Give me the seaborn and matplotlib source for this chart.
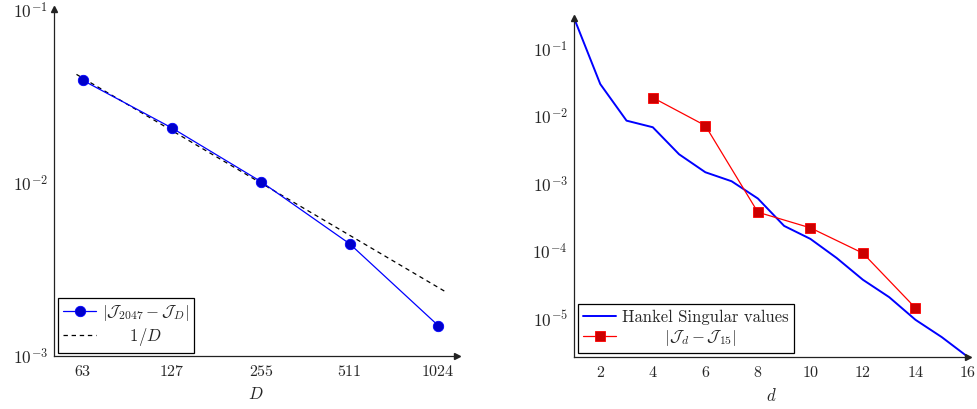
import numpy as np
import pandas as pd
import matplotlib
matplotlib.use("Agg")
import matplotlib.pyplot as plt
from matplotlib.ticker import FixedLocator, NullLocator, LogLocator, NullFormatter
import seaborn as sns

# ---------------- data ----------------
D_values = [63, 127, 255, 511, 1024]
J_err_D = [0.0393, 0.0208, 0.0102, 0.00446, 0.0015]
ref_D = [60, 1100]
ref_invD = [0.0425, 0.00232]

d_hankel = list(range(1, 17))
hankel_sv = [0.29, 0.0301, 0.0086, 0.00686, 0.00272, 0.00147, 0.00108, 0.000598,
             0.000234, 0.00015, 7.8e-5, 3.7e-5, 2.04e-5, 9.4e-6, 5.2e-6, 2.63e-6]
d_err = [4, 6, 8, 10, 12, 14]
J_err_d = [0.0189, 0.00726, 0.000374, 0.000219, 9.2e-5, 1.41e-5]

left_xticks = [63, 127, 255, 511, 1024]
left_yticks = [1e-3, 1e-2, 1e-1]
right_xticks = [2, 4, 6, 8, 10, 12, 14, 16]
right_yticks = [1e-5, 1e-4, 1e-3, 1e-2, 1e-1]

# ---------------- style ----------------
sns.set_theme(style="white")
plt.rcParams["font.family"] = ["cmr10", "DejaVu Serif"]
plt.rcParams["mathtext.fontset"] = "cm"
plt.rcParams["axes.formatter.use_mathtext"] = True
FS = 11.6
YFS = 12.5

fig = plt.figure(figsize=(9.77, 4.09), dpi=100)
W, H = 977, 409

def px_axes(l, r, t, b):
    return fig.add_axes([l / W, 1 - b / H, (r - l) / W, (b - t) / H])

axL = px_axes(54, 457, 9, 356)
axR = px_axes(574, 968, 18, 357)

def style_axes(ax):
    for s in ["top", "right"]:
        ax.spines[s].set_visible(False)
    for s in ["left", "bottom"]:
        ax.spines[s].set_color("#222222")
        ax.spines[s].set_linewidth(0.9)
    ax.tick_params(which="major", direction="inout", length=5, width=0.6,
                   color="#333333", labelsize=FS, pad=3)
    ax.tick_params(which="minor", direction="inout", length=3, width=0.5,
                   color="#333333")
    ax.tick_params(axis="y", which="major", labelsize=YFS, pad=2)
    ax.tick_params(axis="x", which="major", pad=4)
    ax.grid(False)
    # axis arrows
    ax.plot(1, 0, marker=">", color="#222222", ms=4, transform=ax.transAxes, clip_on=False)
    ax.plot(0, 1, marker="^", color="#222222", ms=4, transform=ax.transAxes, clip_on=False)

# ---------------- left plot ----------------
dfL = pd.DataFrame({"D": D_values, "err": J_err_D})
dfRef = pd.DataFrame({"D": ref_D, "y": ref_invD})
sns.lineplot(data=dfRef, x="D", y="y", ax=axL, color="black", lw=0.9,
             linestyle=(0, (3.5, 3)), label=r"$\hspace{1.9}1/D$")
sns.lineplot(data=dfL, x="D", y="err", ax=axL, color="blue", lw=0.9,
             marker="o", ms=7.5, markerfacecolor=(0, 0, 0.8), markeredgecolor="blue",
             markeredgewidth=0.6, label=r"$|\mathcal{J}_{2047}-\mathcal{J}_D|$")
axL.set_xscale("log", base=2)
axL.set_yscale("log")
axL.set_xlim(50.3, 1187)
axL.set_ylim(1e-3, 1.015e-1)
axL.xaxis.set_major_locator(FixedLocator(left_xticks))
axL.set_xticklabels([str(v) for v in left_xticks])
axL.xaxis.set_minor_locator(NullLocator())
axL.yaxis.set_major_locator(FixedLocator(left_yticks))
axL.set_yticklabels([r"$10^{-3}$", r"$10^{-2}$", r"$10^{-1}$"])
axL.yaxis.set_minor_locator(LogLocator(base=10, subs=np.arange(2, 10)))
axL.yaxis.set_minor_formatter(NullFormatter())
axL.set_xlabel(r"$D$", fontsize=FS + 0.5, labelpad=5)
axL.set_ylabel("")
style_axes(axL)
h, l = axL.get_legend_handles_labels()
legL = axL.legend(h[::-1], l[::-1], loc="lower left", bbox_to_anchor=(0.01, 0.009),
                  borderaxespad=0, fontsize=FS + 0.4, frameon=True, fancybox=False,
                  edgecolor="black", framealpha=1, handlelength=2.0,
                  handletextpad=0.35, borderpad=0.3, labelspacing=0.2)
legL.get_frame().set_linewidth(0.9)

# ---------------- right plot ----------------
dfH = pd.DataFrame({"d": d_hankel, "sv": hankel_sv})
dfE = pd.DataFrame({"d": d_err, "err": J_err_d})
sns.lineplot(data=dfH, x="d", y="sv", ax=axR, color="blue", lw=1.4,
             label="Hankel Singular values")
sns.lineplot(data=dfE, x="d", y="err", ax=axR, color="red", lw=0.9,
             marker="s", ms=7, markerfacecolor=(0.8, 0, 0), markeredgecolor="red",
             markeredgewidth=0.6,
             label=r"$\hspace{2.9}|\mathcal{J}_d-\mathcal{J}_{15}|$")
axR.set_yscale("log")
axR.set_xlim(1, 16)
axR.set_ylim(2.63e-6, 0.289)
axR.xaxis.set_major_locator(FixedLocator(right_xticks))
axR.set_xticklabels([str(v) for v in right_xticks])
axR.xaxis.set_minor_locator(NullLocator())
axR.yaxis.set_major_locator(FixedLocator(right_yticks))
axR.set_yticklabels([r"$10^{-5}$", r"$10^{-4}$", r"$10^{-3}$", r"$10^{-2}$", r"$10^{-1}$"])
axR.yaxis.set_minor_locator(LogLocator(base=10, subs=np.arange(2, 10)))
axR.yaxis.set_minor_formatter(NullFormatter())
axR.set_xlabel(r"$d$", fontsize=FS + 0.5, labelpad=5)
axR.set_ylabel("")
style_axes(axR)
legR = axR.legend(loc="lower left", bbox_to_anchor=(0.01, 0.012),
                  borderaxespad=0, fontsize=FS + 0.4, frameon=True, fancybox=False,
                  edgecolor="black", framealpha=1, handlelength=2.0,
                  handletextpad=0.35, borderpad=0.3, labelspacing=0.2)
legR.get_frame().set_linewidth(0.9)

fig.savefig("out.png", dpi=100)
